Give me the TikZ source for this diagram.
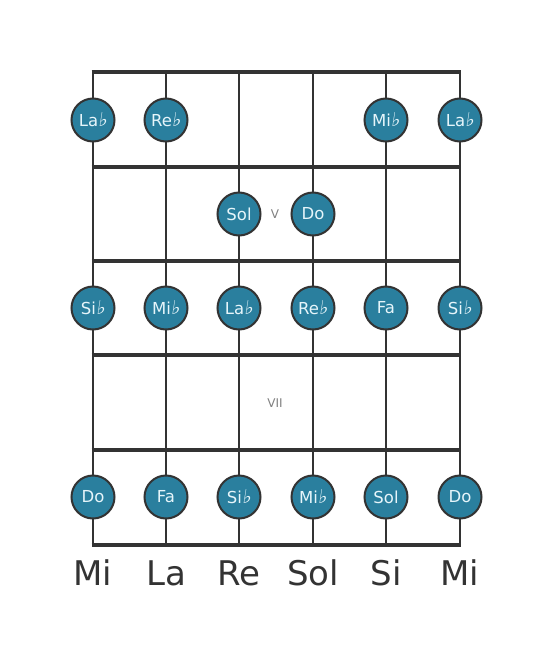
\documentclass[tikz,border=0pt]{standalone}
\usepackage{fontspec}
\setmainfont{DejaVu Sans}
\newfontfamily\flatfont[FakeSlant=0.15]{DejaVu Sans}
\begin{document}
\begin{tikzpicture}[x=1pt,y=-1pt,
  fret/.style={line width=4.5pt,color=black!80},
  string/.style={line width=2.8pt,color=black!80},
  note/.style={circle,draw=black!80,line width=2pt,fill={rgb,255:red,42;green,127;blue,158},minimum size=43pt,inner sep=0pt,text={rgb,255:red,230;green,245;blue,250},font=\fontsize{16.5}{16.5}\selectfont},
  openlbl/.style={font=\fontsize{34}{34}\selectfont,text=black!80},
  fretnum/.style={font=\fontsize{12}{12}\selectfont,text=black!50}]
\useasboundingbox (0,0) rectangle (553,656);
\newcommand{\fl}{{\flatfont\fontsize{19}{19}\selectfont ♭}}
% strings
\foreach \x [count=\i] in {93,166,239,313,386,460}{
  \coordinate (st\i) at (\x,72);
  \coordinate (sb\i) at (\x,545);
  \draw[string] (st\i) -- (sb\i);
}
% frets
\foreach \y [count=\j] in {72,167,261,355,450,545}{
  \coordinate (fl\j) at (91.6,\y);
  \coordinate (fr\j) at (461.4,\y);
  \draw[fret] (fl\j) -- (fr\j);
}
% fret numbers
\node[fretnum] (fv) at (275,214) {V};
\node[fretnum] (fvii) at (275,403) {VII};
% notes row 1
\node[note] (n11) at (93,120) {La\fl};
\node[note] (n12) at (166,120) {Re\fl};
\node[note] (n15) at (386,120) {Mi\fl};
\node[note] (n16) at (460,120) {La\fl};
% row 2
\node[note] (n23) at (239,214) {Sol};
\node[note] (n24) at (313,214) {Do};
% row 3
\node[note] (n31) at (93,308) {Si\fl};
\node[note] (n32) at (166,308) {Mi\fl};
\node[note] (n33) at (239,308) {La\fl};
\node[note] (n34) at (313,308) {Re\fl};
\node[note] (n35) at (386,308) {Fa};
\node[note] (n36) at (460,308) {Si\fl};
% row 5
\node[note] (n51) at (93,497) {Do};
\node[note] (n52) at (166,497) {Fa};
\node[note] (n53) at (239,497) {Si\fl};
\node[note] (n54) at (313,497) {Mi\fl};
\node[note] (n55) at (386,497) {Sol};
\node[note] (n56) at (460,497) {Do};
% open strings
\foreach \x/\t [count=\i] in {93/Mi,166/La,239/Re,313/Sol,386/Si,460/Mi}{
  \node[openlbl] (o\i) at (\x,573) {\t};
}
\end{tikzpicture}
\end{document}
